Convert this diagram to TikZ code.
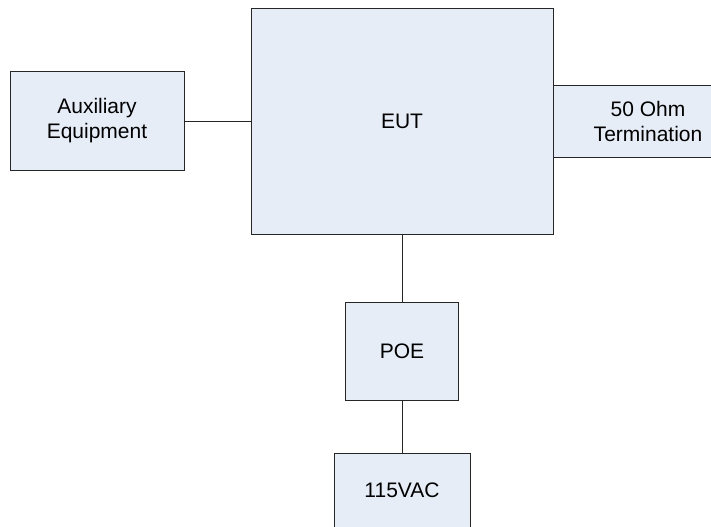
\documentclass[tikz,border=0pt]{standalone}
\usepackage{fontspec}
\setmainfont{Liberation Sans}
\usepackage{xcolor}
\usepackage{tikz}
\usetikzlibrary{calc,positioning}
\definecolor{boxfill}{RGB}{231,237,247}
\tikzset{
  box/.style={draw=black!85, fill=boxfill, line width=0.75pt, align=center, 
  inner sep=0pt, font=\fontsize{15.75}{18.75}\selectfont},
link/.style = {draw=black!85, line width=0.75pt}
}

\begin{document}
\begin{tikzpicture}[node distance=0cm,outer sep = 0pt]
			\useasboundingbox (0,0) rectangle (533.25pt,-394.5pt);
			\node (E) [box,minimum width=226.5pt,minimum height=169.5pt] 
			at (301.5pt,-90.75pt) {EUT};
			\node (A) [box,left=50.25pt of E,minimum width=130.5pt,
			minimum height=74.25pt] {Auxiliary\\Equipment};
			\node (T) [box,right=0pt of E,minimum width=142.5pt,
			minimum height=54pt] {50 Ohm\\Termination};
			\node (P) [box,below=51pt of E,minimum width=84.75pt,
			minimum height=73.5pt] {POE};
			\node (V) [box,below=39.75pt of P,minimum width=102pt,
			minimum height=55.5pt] {115VAC};
			\path (A) edge [link] (E);
			\path (E) edge [link] (P);
			\path (P) edge [link] (V);
			\end{tikzpicture}
\end{document}
